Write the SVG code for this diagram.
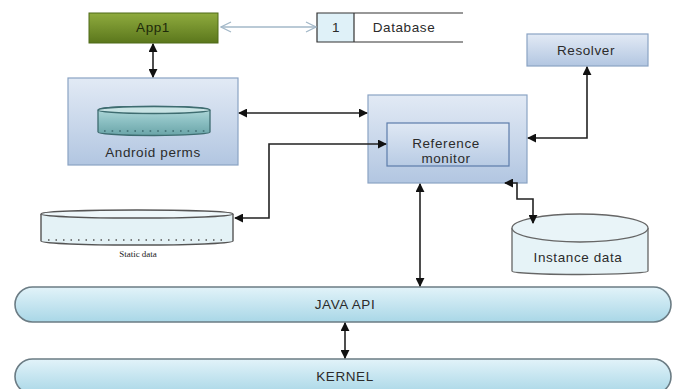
<svg xmlns="http://www.w3.org/2000/svg" width="678" height="389" viewBox="0 0 678 389">
  <style>
    .lbl { font-family: "Liberation Sans", Arial, sans-serif; font-size: 13.5px; letter-spacing: 0.6px; fill: #2b2b2b; text-anchor: middle; dominant-baseline: central; }
    .box { fill: url(#blueBox); stroke: #8aa3c4; stroke-width: 1.2; }
    .conn { fill: none; stroke: #222; stroke-width: 1.6; }
    .bar { fill: url(#cyanBar); stroke: #6b7c84; stroke-width: 1.6; }
  </style>
  <defs>
    <linearGradient id="blueBox" x1="0" y1="0" x2="0" y2="1">
      <stop offset="0" stop-color="#e2eaf5"/>
      <stop offset="1" stop-color="#b2c6e1"/>
    </linearGradient>
    <linearGradient id="innerBox" x1="0" y1="0" x2="0" y2="1">
      <stop offset="0" stop-color="#dfe8f4"/>
      <stop offset="1" stop-color="#b8cbe4"/>
    </linearGradient>
    <linearGradient id="greenBox" x1="0" y1="0" x2="0" y2="1">
      <stop offset="0" stop-color="#8fab3e"/>
      <stop offset="1" stop-color="#5b771c"/>
    </linearGradient>
    <linearGradient id="cyanBar" x1="0" y1="0" x2="0" y2="1">
      <stop offset="0" stop-color="#e2f3f9"/>
      <stop offset="1" stop-color="#a9d7e7"/>
    </linearGradient>
    <linearGradient id="tealCyl" x1="0" y1="0" x2="0" y2="1">
      <stop offset="0" stop-color="#b7dcdd"/>
      <stop offset="0.5" stop-color="#8cc0c3"/>
      <stop offset="1" stop-color="#6aa4a8"/>
    </linearGradient>
    <marker id="arrow" viewBox="0 0 10 10" refX="9" refY="5" markerWidth="9" markerHeight="9" markerUnits="userSpaceOnUse" orient="auto-start-reverse">
      <path d="M0,0 L10,5 L0,10 z" fill="#111"/>
    </marker>
    <marker id="chevron" viewBox="0 0 12 12" refX="11" refY="6" markerWidth="12" markerHeight="12" markerUnits="userSpaceOnUse" orient="auto-start-reverse">
      <path d="M1,1 L11,6 L1,11" fill="none" stroke="#a3b8c8" stroke-width="1.3"/>
    </marker>
  </defs>

  <!-- App1 -->
  <g id="app1">
    <rect x="89" y="13" width="129" height="30" fill="url(#greenBox)" stroke="#4f6a18" stroke-width="1"/>
    <text class="lbl" x="153" y="27" style="fill:#1e2a0a">App1</text>
  </g>

  <!-- Database -->
  <g id="database">
    <rect x="317" y="13" width="37" height="29" fill="#dff1f8"/>
    <path d="M463,13 L317,13 L317,42 L463,42 M354,13 L354,42" fill="none" stroke="#333" stroke-width="1.2"/>
    <text class="lbl" x="336" y="27">1</text>
    <text class="lbl" x="404" y="27">Database</text>
  </g>

  <!-- Android perms -->
  <g id="android-perms">
    <rect class="box" x="68" y="78" width="170" height="87"/>
    <path d="M98,110 L98,132 A56,3.5 0 0 0 210,132 L210,110 A56,3.5 0 0 0 98,110 z" fill="url(#tealCyl)" stroke="#3e6c70" stroke-width="1.3"/>
    <ellipse cx="154" cy="110" rx="56" ry="3.5" fill="#c8e3e4" stroke="#3e6c70" stroke-width="1.3"/>
    <line x1="104" y1="131" x2="206" y2="131" stroke="#3e6c70" stroke-width="1.6" stroke-dasharray="1.6,6"/>
    <text class="lbl" x="153" y="152">Android perms</text>
  </g>

  <!-- Reference monitor -->
  <g id="reference-monitor">
    <rect class="box" x="368" y="95" width="159" height="88"/>
    <rect x="387" y="123" width="122" height="43" fill="url(#innerBox)" stroke="#5c7cab" stroke-width="1.2"/>
    <text class="lbl" x="446" y="143">Reference</text>
    <text class="lbl" x="446" y="158">monitor</text>
  </g>

  <!-- Resolver -->
  <g id="resolver">
    <rect class="box" x="527" y="34" width="121" height="32"/>
    <text class="lbl" x="586" y="50">Resolver</text>
  </g>

  <!-- Static data -->
  <g id="static-data">
    <path d="M41,214 L41,241 A96,4 0 0 0 233,241 L233,214" fill="#e4f2f6" stroke="#555" stroke-width="1.4"/>
    <ellipse cx="137" cy="214" rx="96" ry="4" fill="#eef7fa" stroke="#555" stroke-width="1.4"/>
    <line x1="48" y1="240" x2="228" y2="240" stroke="#555" stroke-width="1.4" stroke-dasharray="1.5,6"/>
    <text x="138" y="254" text-anchor="middle" dominant-baseline="central" font-family="Liberation Serif, 'Times New Roman', serif" font-size="9" fill="#222">Static data</text>
  </g>

  <!-- Instance data -->
  <g id="instance-data">
    <path d="M512,228 L512,271 A68,3.5 0 0 0 648,271 L648,228" fill="#e6f3f7" stroke="#666" stroke-width="1.3"/>
    <ellipse cx="580" cy="228" rx="68" ry="14" fill="#e9f4f8" stroke="#666" stroke-width="1.3"/>
    <text class="lbl" x="578" y="257">Instance data</text>
  </g>

  <!-- JAVA API -->
  <g id="java-api">
    <rect class="bar" x="15" y="287" width="656" height="35" rx="17.5"/>
    <text class="lbl" x="345" y="304">JAVA API</text>
  </g>

  <!-- KERNEL -->
  <g id="kernel">
    <rect class="bar" x="15" y="359" width="656" height="35" rx="17.5"/>
    <text class="lbl" x="345" y="376">KERNEL</text>
  </g>

  <!-- connectors -->
  <g id="connectors">
    <line x1="221" y1="27" x2="316" y2="27" stroke="#a3b8c8" stroke-width="1.3" marker-start="url(#chevron)" marker-end="url(#chevron)"/>
    <line class="conn" x1="153" y1="44" x2="153" y2="77" marker-start="url(#arrow)" marker-end="url(#arrow)"/>
    <line class="conn" x1="239" y1="113" x2="367" y2="113" marker-start="url(#arrow)" marker-end="url(#arrow)"/>
    <polyline class="conn" points="235,218 269,218 269,144 386,144" marker-start="url(#arrow)" marker-end="url(#arrow)"/>
    <polyline class="conn" points="587,67 587,138 528,138" marker-start="url(#arrow)" marker-end="url(#arrow)"/>
    <polyline class="conn" points="505,183 517,183 517,199 533,199 533,223" marker-start="url(#arrow)" marker-end="url(#arrow)"/>
    <line class="conn" x1="420" y1="184" x2="420" y2="286" marker-start="url(#arrow)" marker-end="url(#arrow)"/>
    <line class="conn" x1="345" y1="323" x2="345" y2="358" marker-start="url(#arrow)" marker-end="url(#arrow)"/>
  </g>
</svg>
